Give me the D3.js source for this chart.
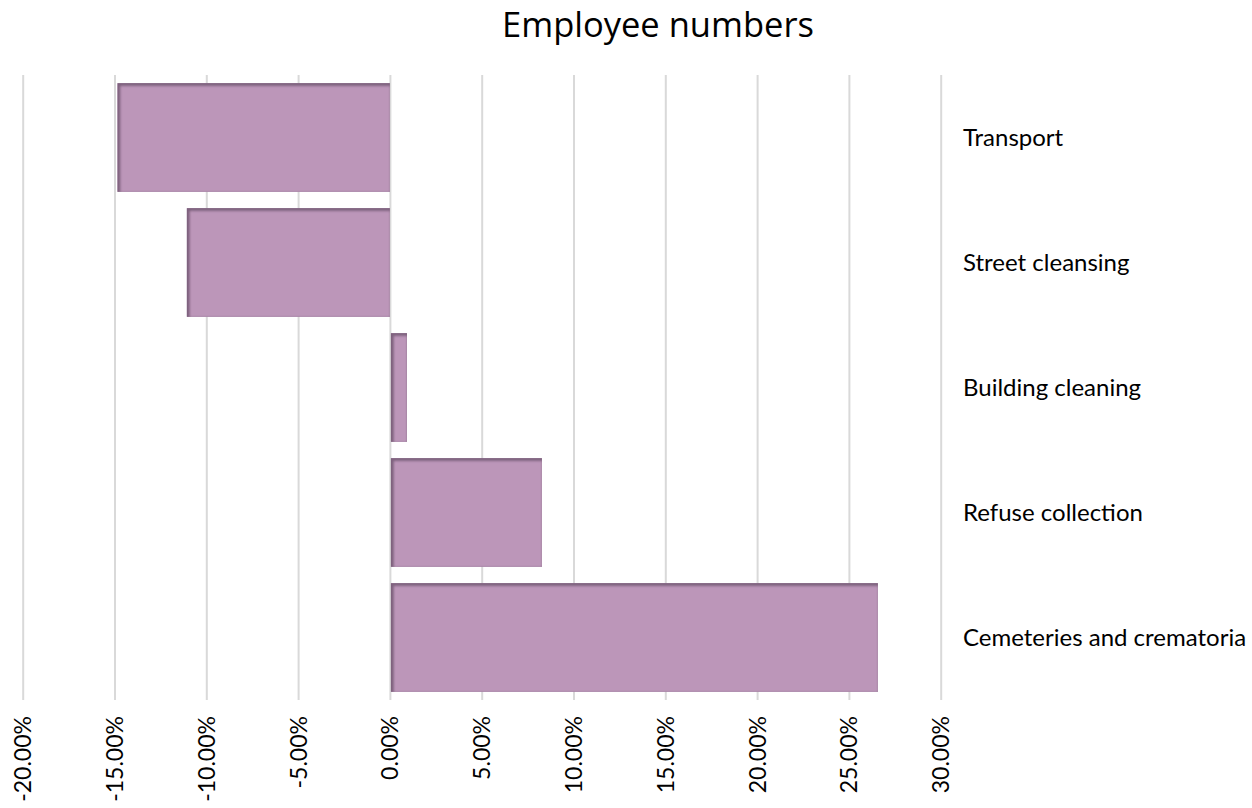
<!DOCTYPE html>
<html>
<head>
<meta charset="utf-8">
<script src="https://cdn.jsdelivr.net/npm/d3@7"></script>
<style>
  html, body { margin: 0; padding: 0; background: #ffffff; }
  svg { display: block; }
</style>
</head>
<body>
<svg id="chart" width="1252" height="808"></svg>
<script>
// Change in employee numbers by service area
const categories = ["Transport", "Street cleansing", "Building cleaning", "Refuse collection", "Cemeteries and crematoria"];
const values = [-14.84, -11.06, 0.93, 8.28, 26.58];
const tickValues = [-20, -15, -10, -5, 0, 5, 10, 15, 20, 25, 30];

const svg = d3.select("#chart");
const plot = { left: 22.7, right: 940.7, top: 75, bottom: 700 };

const x = d3.scaleLinear().domain([-20, 30]).range([plot.left, plot.right]);
const y = d3.scaleBand().domain(categories).range([plot.top, plot.bottom]).paddingInner(0.13).paddingOuter(0.065);

// Title
svg.append("text")
  .attr("x", 658).attr("y", 37)
  .attr("text-anchor", "middle")
  .attr("font-family", "'Open Sans', 'Noto Sans', sans-serif")
  .attr("font-size", 34.5)
  .attr("fill", "#000")
  .text("Employee numbers");

// Shadow filter giving bars an inset edge on top and left
const defs = svg.append("defs");
const f = defs.append("filter").attr("id", "inset").attr("x", "0").attr("y", "0").attr("width", "1").attr("height", "1");
f.append("feOffset").attr("in", "SourceAlpha").attr("dx", 3).attr("dy", 3).attr("result", "off");
f.append("feGaussianBlur").attr("in", "off").attr("stdDeviation", 1).attr("result", "blur");
f.append("feComposite").attr("in", "SourceAlpha").attr("in2", "blur").attr("operator", "out").attr("result", "edge");
f.append("feFlood").attr("flood-color", "#5e4560").attr("flood-opacity", 0.75).attr("result", "col");
f.append("feComposite").attr("in", "col").attr("in2", "edge").attr("operator", "in").attr("result", "shadow");
const m = f.append("feMerge");
m.append("feMergeNode").attr("in", "SourceGraphic");
m.append("feMergeNode").attr("in", "shadow");

// Vertical gridlines with short ticks below
const xAxis = d3.axisBottom(x)
  .tickValues(tickValues)
  .tickSize(plot.bottom - plot.top)
  .tickFormat(d => d.toFixed(2) + "%");

const gx = svg.append("g")
  .attr("transform", `translate(0,${plot.top})`)
  .call(xAxis);
gx.select(".domain").remove();
gx.selectAll(".tick line").attr("stroke", "#d9d9d9").attr("stroke-width", 2);
gx.selectAll(".tick text")
  .attr("font-family", "Lato, 'Open Sans', sans-serif")
  .attr("font-size", 23)
  .attr("fill", "#000")
  .attr("transform", "rotate(-90)")
  .attr("text-anchor", "end")
  .attr("x", -(plot.bottom - plot.top) - 16)
  .attr("y", 0)
  .attr("dy", "0.35em");

// Bars
svg.append("g").selectAll("rect")
  .data(values)
  .join("rect")
  .attr("x", d => d < 0 ? x(d) : x(0) + 1)
  .attr("y", (d, i) => y(categories[i]))
  .attr("width", d => d < 0 ? x(0) - x(d) : x(d) - x(0) - 1)
  .attr("height", y.bandwidth())
  .attr("fill", "#bc96b9")
  .attr("filter", "url(#inset)");

// Category labels on the right
svg.append("g").selectAll("text")
  .data(categories)
  .join("text")
  .attr("x", 963)
  .attr("y", d => y(d) + y.bandwidth() / 2)
  .attr("dy", "0.35em")
  .attr("font-family", "Lato, 'Open Sans', sans-serif")
  .attr("font-size", 24)
  .attr("fill", "#000")
  .text(d => d);
</script>
</body>
</html>
